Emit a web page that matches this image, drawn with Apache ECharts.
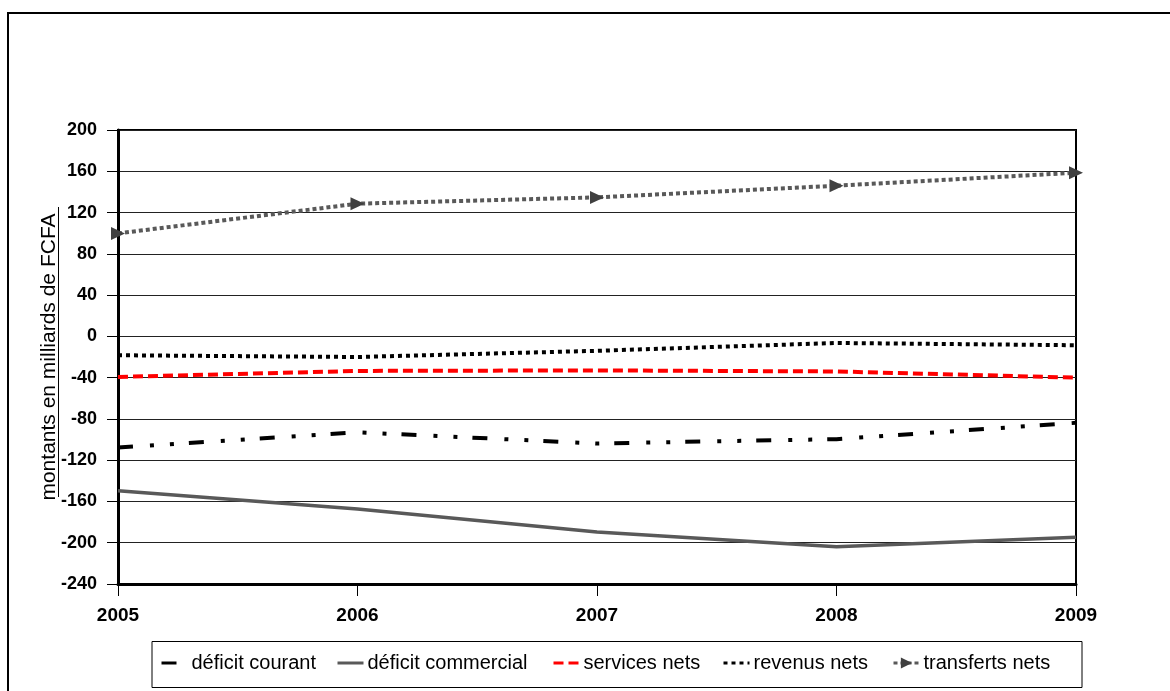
<!DOCTYPE html>
<html>
<head>
<meta charset="utf-8">
<script src="https://cdn.jsdelivr.net/npm/echarts@6/dist/echarts.min.js"></script>
<style>
html,body{margin:0;padding:0;background:#fff;}
#c{width:1170px;height:691px;}
</style>
</head>
<body>
<div id="c"></div>
<script>
const years = ['2005', '2006', '2007', '2008', '2009'];
const deficitCourant = [-107.7, -93, -103.8, -99.6, -83.8];
const deficitCommercial = [-149.7, -167.4, -189.7, -203.9, -194.8];
const servicesNets = [-39.3, -33.5, -33, -34, -40];
const revenusNets = [-18.3, -20, -14, -6.4, -8.6];
const transfertsNets = [99.8, 128.6, 134.7, 146, 158.6];
const seriesNames = ['déficit courant', 'déficit commercial', 'services nets', 'revenus nets', 'transferts nets'];
const yTitle = 'montants en milliards de FCFA';

const FONT = '"Liberation Sans", Arial, sans-serif';
const chart = echarts.init(document.getElementById('c'), null, {renderer: 'canvas'});

const legendLefts = [160, 336, 552, 722, 892];
const legends = seriesNames.map((n, i) => ({
  data: [n],
  left: legendLefts[i],
  top: 653,
  itemWidth: 26,
  itemHeight: 14,
  itemGap: 0,
  padding: 0,
  itemStyle: i === 4 ? {} : {opacity: 0},
  lineStyle: {width: 3},
  textStyle: {fontFamily: FONT, fontSize: 20, color: '#000', padding: [0, 0, 0, -1]},
  selectedMode: false
}));

chart.setOption({
  animation: false,
  backgroundColor: '#fff',
  textStyle: {fontFamily: FONT},
  graphic: [
    {type: 'rect', shape: {x: 8, y: 13, width: 1200, height: 700}, style: {fill: 'none', stroke: '#000', lineWidth: 2}, silent: true},
    {type: 'rect', shape: {x: 152, y: 641.5, width: 930, height: 46}, style: {fill: 'none', stroke: '#000', lineWidth: 1}, silent: true, z: -1},
    {type: 'line', shape: {x1: 58.5, y1: 207, x2: 58.5, y2: 497}, style: {stroke: '#000', lineWidth: 1}, silent: true}
  ],
  legend: legends,
  grid: {left: 118, top: 130, right: 94, bottom: 107, show: true, borderColor: '#000', borderWidth: 2, backgroundColor: 'transparent'},
  xAxis: {
    type: 'category',
    data: years,
    boundaryGap: false,
    axisLine: {onZero: false, lineStyle: {color: '#000', width: 3}},
    axisTick: {show: true, length: 12, inside: false, lineStyle: {color: '#000', width: 1}},
    axisLabel: {fontFamily: FONT, fontSize: 19, fontWeight: 'bold', color: '#000', margin: 22},
    splitLine: {show: false}
  },
  yAxis: {
    type: 'value',
    min: -240, max: 200, interval: 40,
    name: yTitle,
    nameLocation: 'middle',
    nameRotate: 90,
    nameGap: 58,
    nameMoveOverlap: false,
    nameTextStyle: {fontFamily: FONT, fontSize: 21, color: '#000', verticalAlign: 'bottom'},
    axisLine: {show: true, lineStyle: {color: '#000', width: 3}},
    axisTick: {show: true, length: 11, inside: false, lineStyle: {color: '#000', width: 1}},
    axisLabel: {fontFamily: FONT, fontSize: 18, fontWeight: 'bold', color: '#000', margin: 21},
    splitLine: {show: true, lineStyle: {color: '#222', width: 1}}
  },
  series: [
    {name: seriesNames[0], type: 'line', data: deficitCourant, symbol: 'none', color: '#000',
     lineStyle: {color: '#000', width: 4, type: [15, 17, 4, 16, 4, 15], cap: 'butt'}},
    {name: seriesNames[1], type: 'line', data: deficitCommercial, symbol: 'none', color: '#595959',
     lineStyle: {color: '#595959', width: 3.5, type: 'solid'}},
    {name: seriesNames[2], type: 'line', data: servicesNets, symbol: 'none', color: '#ff0000',
     lineStyle: {color: '#ff0000', width: 4, type: [10, 5]}},
    {name: seriesNames[3], type: 'line', data: revenusNets, symbol: 'none', color: '#000',
     lineStyle: {color: '#000', width: 4, type: [4, 4]}},
    {name: seriesNames[4], type: 'line', data: transfertsNets, symbol: 'triangle', symbolSize: [13, 14], symbolRotate: -90,
     showSymbol: true, color: '#404040',
     itemStyle: {color: '#404040', borderWidth: 0},
     lineStyle: {color: '#595959', width: 4, type: [4, 3]}}
  ]
});
</script>
</body>
</html>
